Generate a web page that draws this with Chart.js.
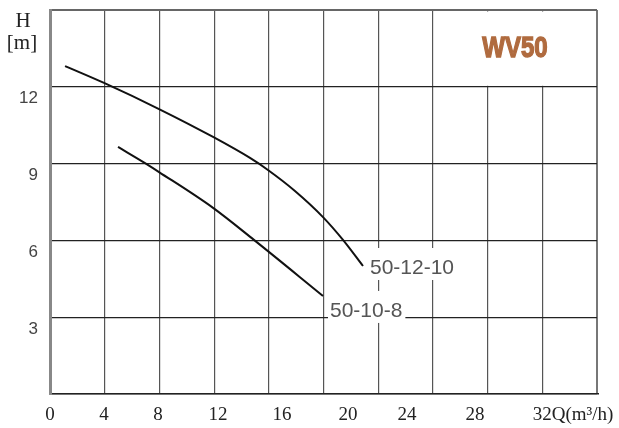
<!DOCTYPE html>
<html>
<head>
<meta charset="utf-8">
<script src="https://cdn.jsdelivr.net/npm/chart.js@4.4.1/dist/chart.umd.min.js"></script>
<style>
  html, body { margin: 0; padding: 0; background: #fff; }
  #wrap { width: 619px; height: 428px; }
</style>
</head>
<body>
<div id="wrap"><canvas id="chart" width="619" height="428"></canvas></div>
<script>
// pump curves, Q in m3/h (grid scale), H in m
const flow121 = [0.88, 3.16, 6.38, 9.54, 11.70, 12.75, 14.33, 15.97, 17.14, 18.31];
const head121 = [12.81, 12.15, 11.13, 10.04, 9.22, 8.75, 7.93, 6.91, 6.02, 5.00];
const flow108 = [3.98, 5.56, 6.38, 9.54, 11.93, 15.97];
const head108 = [9.65, 9.02, 8.67, 7.27, 6.02, 3.83];
const seriesNames = ["50-12-10", "50-10-8"];

// x tick labels (drawn where the original sheet prints them)
const xTickLabels = ["0", "4", "8", "12", "16", "20", "24", "28", "32Q(m\u00b3/h)"];
const xTickAt = [0, 3.16, 6.32, 9.83, 13.57, 17.44, 20.88, 24.86, 30.6];
const xGrid = [0, 3.2, 6.4, 9.6, 12.8, 16, 19.2, 22.4, 25.6, 28.8, 32];
const yTicks = [0, 3, 6, 9, 12, 15];
const modelName = "WV50";

const serif = "'Liberation Serif', 'Times New Roman', serif";
const sans = "'Liberation Sans', Arial, sans-serif";

function toPoints(xs, ys) {
    return xs.map((x, i) => ({ x: x, y: ys[i] }));
}

const overlay = {
    id: "overlay",
    beforeDatasetsDraw(chart) {
        const ctx = chart.ctx;
        const xs = chart.scales.x;
        const ys = chart.scales.y;
        // blank panel behind model name
        const left = xs.getPixelForValue(22.4);
        const bottom = ys.getPixelForValue(12);
        const top = chart.chartArea.top;
        const right = chart.chartArea.right;
        ctx.save();
        ctx.fillStyle = "#fff";
        ctx.fillRect(left + 1, top + 1.5, right - left - 2.5, bottom - top - 2.5);
        ctx.restore();
    },
    afterDatasetsDraw(chart) {
        const ctx = chart.ctx;
        const xs = chart.scales.x;
        const ys = chart.scales.y;
        ctx.save();

        // model name, condensed and heavy
        ctx.save();
        ctx.translate(515, 49);
        ctx.scale(0.8, 1);
        ctx.font = "bold 30px " + sans;
        ctx.fillStyle = "#b06b3f";
        ctx.strokeStyle = "#b06b3f";
        ctx.lineWidth = 1.4;
        ctx.textAlign = "center";
        ctx.textBaseline = "middle";
        ctx.fillText(modelName, 0, 0);
        ctx.strokeText(modelName, 0, 0);
        ctx.restore();

        // curve names with white boxes
        ctx.font = "21px " + sans;
        ctx.textAlign = "left";
        ctx.textBaseline = "middle";
        const sets = [[flow121, head121, 2], [flow108, head108, 15]];
        sets.forEach((s, i) => {
            const n = s[0].length - 1;
            const px = xs.getPixelForValue(s[0][n]);
            const py = ys.getPixelForValue(s[1][n]);
            const tx = px + 7;
            const cy = py + s[2];
            const w = ctx.measureText(seriesNames[i]).width;
            ctx.fillStyle = "#fff";
            ctx.fillRect(tx - 2, cy - 20, w + 5, 32);
            ctx.fillStyle = "#555";
            ctx.fillText(seriesNames[i], tx, cy);
        });

        // axis caption H [m]
        ctx.font = "21px " + serif;
        ctx.fillStyle = "#222";
        ctx.textAlign = "center";
        ctx.fillText("H", 23, 21);
        ctx.fillText("[m]", 22, 43);
        ctx.restore();
    }
};

new Chart(document.getElementById("chart"), {
    type: "line",
    data: {
        datasets: [
            {
                label: seriesNames[0],
                data: toPoints(flow121, head121),
                borderColor: "#111",
                borderWidth: 2,
                pointRadius: 0,
                cubicInterpolationMode: "monotone",
                xAxisID: "x"
            },
            {
                label: seriesNames[1],
                data: toPoints(flow108, head108),
                borderColor: "#111",
                borderWidth: 2,
                pointRadius: 0,
                cubicInterpolationMode: "monotone",
                xAxisID: "x"
            }
        ]
    },
    options: {
        responsive: false,
        animation: false,
        layout: { padding: { top: 10, right: 22, left: 0, bottom: 0 } },
        plugins: { legend: { display: false }, tooltip: { enabled: false } },
        scales: {
            x: {
                type: "linear",
                position: "bottom",
                min: 0,
                max: 32,
                afterBuildTicks: s => { s.ticks = xGrid.map(v => ({ value: v })); },
                afterFit: s => { s.height = 0; s.paddingLeft = 0; s.paddingRight = 0; },
                ticks: { display: false },
                grid: {
                    drawTicks: false,
                    color: c => {
                        const v = c.tick ? c.tick.value : null;
                        if (v === 0) return "#888";
                        if (v === 32) return "#777";
                        return "#555";
                    },
                    lineWidth: c => {
                        const v = c.tick ? c.tick.value : null;
                        if (v === 0) return 3;
                        if (v === 32) return 2;
                        return 1.2;
                    }
                },
                border: { color: "#222", width: 1.5 }
            },
            xl: {
                type: "linear",
                position: "bottom",
                min: 0,
                max: 32,
                afterBuildTicks: s => { s.ticks = xTickAt.map(v => ({ value: v })); },
                afterFit: s => { s.height = 34; s.paddingLeft = 0; s.paddingRight = 0; },
                grid: { display: false, drawTicks: false },
                border: { display: false },
                ticks: {
                    autoSkip: false,
                    maxRotation: 0,
                    minRotation: 0,
                    padding: 10,
                    color: "#222",
                    font: { family: serif, size: 19 },
                    callback: (v, i) => xTickLabels[i]
                }
            },
            y: {
                type: "linear",
                min: 0,
                max: 15,
                afterBuildTicks: s => { s.ticks = yTicks.map(v => ({ value: v })); },
                afterFit: s => { s.width = 50; s.paddingTop = 0; s.paddingBottom = 0; },
                grid: {
                    drawTicks: false,
                    color: c => (c.tick && c.tick.value === 15) ? "#666" : "#222",
                    lineWidth: c => (c.tick && c.tick.value === 15) ? 2 : 1.2
                },
                border: { color: "#888", width: 3 },
                ticks: {
                    padding: 12,
                    labelOffset: 12,
                    color: "#444",
                    font: { family: sans, size: 17 },
                    callback: v => (v === 0 || v === 15) ? "" : String(v)
                }
            }
        }
    },
    plugins: [overlay]
});
</script>
</body>
</html>
